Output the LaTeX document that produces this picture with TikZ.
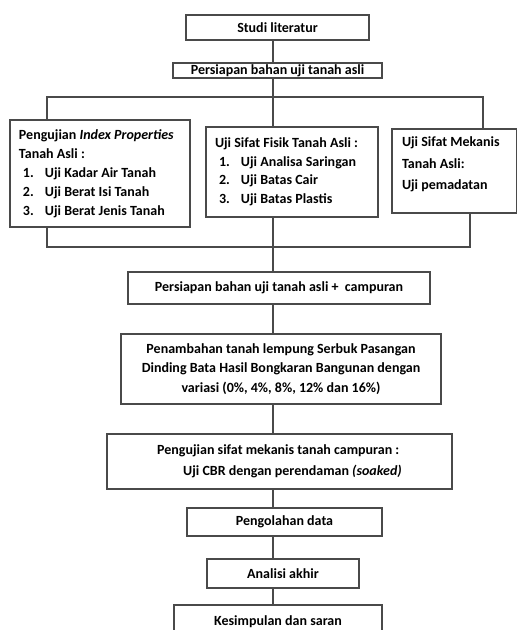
\documentclass[tikz,border=0pt]{standalone}
\usepackage{fontspec}
\setmainfont{Carlito}
\usepackage{tikz}

\definecolor{linegray}{HTML}{4A4A4A}
\tikzset{
  box/.style={draw=linegray, line width=1.1pt, inner xsep=9pt, inner ysep=0pt, font=\bfseries\fontsize{14}{19}\selectfont},
  link/.style={draw=linegray, line width=1.1pt}
}
\newcommand{\itm}[2]{\hspace*{4pt}\makebox[22pt][l]{#1}#2}

\begin{document}
\begin{tikzpicture}[x=1pt,y=-1pt]
\useasboundingbox (0,0) rectangle (517,630);
\node [box, minimum width=183pt, minimum height=25pt] (studi) at (277.5,27.5) {Studi literatur};
\node [box, minimum width=209pt, minimum height=15pt] (siap) at (277.5,70.5) {Persiapan bahan uji tanah asli};
\node [box, text width=162pt, align=flush left, minimum height=107pt] (index) at (100,173.5) {Pengujian \textit{Index Properties}\\ Tanah Asli :\\ \itm{1.}{Uji Kadar Air Tanah}\\ \itm{2.}{Uji Berat Isi Tanah}\\ \itm{3.}{Uji Berat Jenis Tanah}};
\node [box, text width=154pt, align=flush left, minimum height=90pt, font=\bfseries\fontsize{14}{18.5}\selectfont] (fisik) at (292,172) {Uji Sifat Fisik Tanah Asli :\\ \itm{1.}{Uji Analisa Saringan}\\ \itm{2.}{Uji Batas Cair}\\ \itm{3.}{Uji Batas Plastis}};
\node [box, inner xsep=10pt, text width=105pt, align=flush left, minimum height=84pt, font=\bfseries\fontsize{14}{21.5}\selectfont] (mekanis) at (454.5,171) {Uji Sifat Mekanis\\ Tanah Asli:\\ Uji pemadatan\\[-6pt] \mbox{}};
\node [box, minimum width=302pt, minimum height=32pt] (campur) at (279,288) {Persiapan bahan uji tanah asli + \ campuran};
\node [box, align=center, minimum width=320pt, minimum height=70pt, font=\bfseries\fontsize{14}{19.5}\selectfont] (tambah) at (281,369) {Penambahan tanah lempung Serbuk Pasangan\\ Dinding Bata Hasil Bongkaran Bangunan dengan\\ variasi (0\%, 4\%, 8\%, 12\% dan 16\%)};
\node [box, align=flush left, minimum width=345pt, minimum height=55pt, font=\bfseries\fontsize{14}{21}\selectfont] (cbr) at (279.5,461.5) {Pengujian sifat mekanis tanah campuran :\\ \hspace*{26pt}Uji CBR dengan perendaman \textit{(soaked)}};
\node [box, minimum width=195pt, minimum height=28pt] (olah) at (284.5,522) {Pengolahan data};
\node [box, minimum width=152pt, minimum height=29pt] (akhir) at (283,573.5) {Analisi akhir};
\node [box, minimum width=208pt, minimum height=34pt] (simpul) at (278,622) {Kesimpulan dan saran};

\coordinate (spine) at (273,0);
\coordinate (busA) at (47,97);
\coordinate (busC) at (483,97);
\coordinate (joinA) at (47,247);
\coordinate (joinC) at (470,247);

\draw [link] (studi.south -| spine) -- (siap.north -| spine);
\draw [link] (siap.south -| spine) -- (fisik.north -| spine);
\draw [link] (index.north -| busA) -- (busA) -- (busC) -- (mekanis.north -| busC);
\draw [link] (index.south -| joinA) -- (joinA) -- (joinC) -- (mekanis.south -| joinC);
\draw [link] (fisik.south -| spine) -- (campur.north -| spine);
\draw [link] (campur.south -| spine) -- (tambah.north -| spine);
\draw [link] (tambah.south -| spine) -- (cbr.north -| spine);
\draw [link] (cbr.south -| spine) -- (olah.north -| spine);
\draw [link] (olah.south -| spine) -- (akhir.north -| spine);
\draw [link] (akhir.south -| spine) -- (simpul.north -| spine);
\end{tikzpicture}
\end{document}
